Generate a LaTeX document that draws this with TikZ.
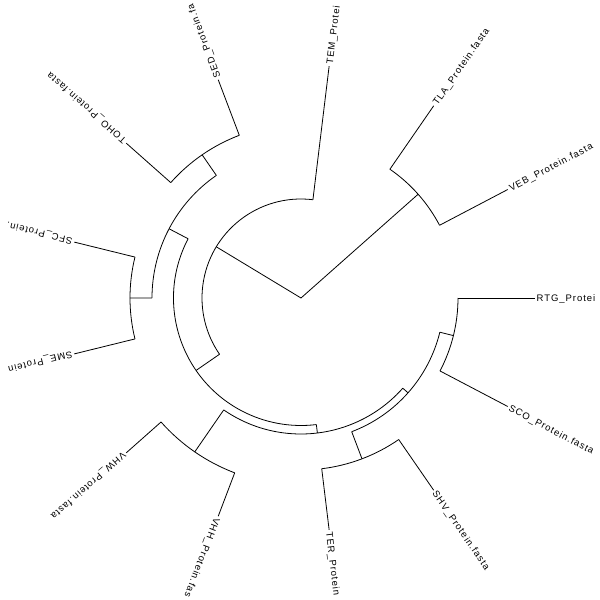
\documentclass[tikz,border=0pt]{standalone}
\usepackage{fontspec}
\setmainfont{Liberation Sans}[LetterSpace=10]
\begin{document}
\begin{tikzpicture}[x=1pt,y=1pt,every node/.style={font=\fontsize{9.5}{11}\selectfont}]
	\tikzstyle{branch} = [line width=0.8pt]
	\tikzstyle{leaf} = [anchor=west,inner xsep=2pt,inner ysep=0pt,text height=6.8pt,text depth=0pt]
	\useasboundingbox (-301,-302) rectangle (299,298);
	\clip (-301,-302) rectangle (299,298);
	% clades
	\coordinate (root) at (0,0);
	\coordinate (A) at (41.54:156.5);
	\coordinate (B) at (148.85:99);
	\coordinate (C) at (214.62:127.5);  \coordinate (C-base) at (214.62:99);
	\coordinate (D) at (152.31:149);    \coordinate (D-base) at (152.31:127.5);
	\coordinate (E) at (276.92:136);    \coordinate (E-base) at (276.92:127.5);
	\coordinate (J) at (124.62:174);    \coordinate (J-base) at (124.62:149);
	\coordinate (K) at (180:171);       \coordinate (K-base) at (180:149);
	\coordinate (F) at (235.38:187);    \coordinate (F-base) at (235.38:136);
	\coordinate (G) at (318.46:143);    \coordinate (G-base) at (318.46:136);
	\coordinate (I) at (290.77:172);    \coordinate (I-base) at (290.77:143);
	\coordinate (H) at (346.15:157);    \coordinate (H-base) at (346.15:143);
	\path[branch,draw] (root) -- (A) (root) -- (B)
	(C-base) -- (C) (D-base) -- (D) (E-base) -- (E)
	(J-base) -- (J) (K-base) -- (K) (F-base) -- (F)
	(G-base) -- (G) (I-base) -- (I) (H-base) -- (H);
	% arcs
	\draw[branch] (27.69:156.5) arc[start angle=27.69,end angle=55.38,radius=156.5];
	\draw[branch] (83.08:99) arc[start angle=83.08,end angle=214.62,radius=99];
	\draw[branch] (152.31:127.5) arc[start angle=152.31,end angle=276.92,radius=127.5];
	\draw[branch] (124.62:149) arc[start angle=124.62,end angle=180,radius=149];
	\draw[branch] (110.77:174) arc[start angle=110.77,end angle=138.46,radius=174];
	\draw[branch] (166.15:171) arc[start angle=166.15,end angle=193.85,radius=171];
	\draw[branch] (235.38:136) arc[start angle=235.38,end angle=318.46,radius=136];
	\draw[branch] (221.54:187) arc[start angle=221.54,end angle=249.23,radius=187];
	\draw[branch] (290.77:143) arc[start angle=290.77,end angle=346.15,radius=143];
	\draw[branch] (276.92:172) arc[start angle=276.92,end angle=304.62,radius=172];
	\draw[branch] (332.31:157) arc[start angle=332.31,end angle=360,radius=157];
	% tips
	\foreach \n/\a/\r/\t in {rtg/0/157/RTG\_Protei, veb/27.69/156.5/VEB\_Protein.fasta,
		tla/55.38/156.5/TLA\_Protein.fasta, tem/83.08/99/TEM\_Protei,
		sed/110.77/174/SED\_Protein.fa, toho/138.46/174/TOHO\_Protein.fasta,
		sfc/166.15/171/SFC\_Protein., sme/193.85/171/SME\_Protein,
		vhw/221.54/187/VHW\_Protein.fasta, vhh/249.23/187/VHH\_Protein.fas,
		ter/276.92/172/TER\_Protein, shv/304.62/172/SHV\_Protein.fasta,
		sco/332.31/157/SCO\_Protein.fasta}
	{
		\node[leaf,rotate=\a] (\n) at (\a:233.5) {\t};
		\coordinate (\n-base) at (\a:\r);
		\draw[branch] (\n-base) -- (\n);
	}
\end{tikzpicture}
\end{document}
